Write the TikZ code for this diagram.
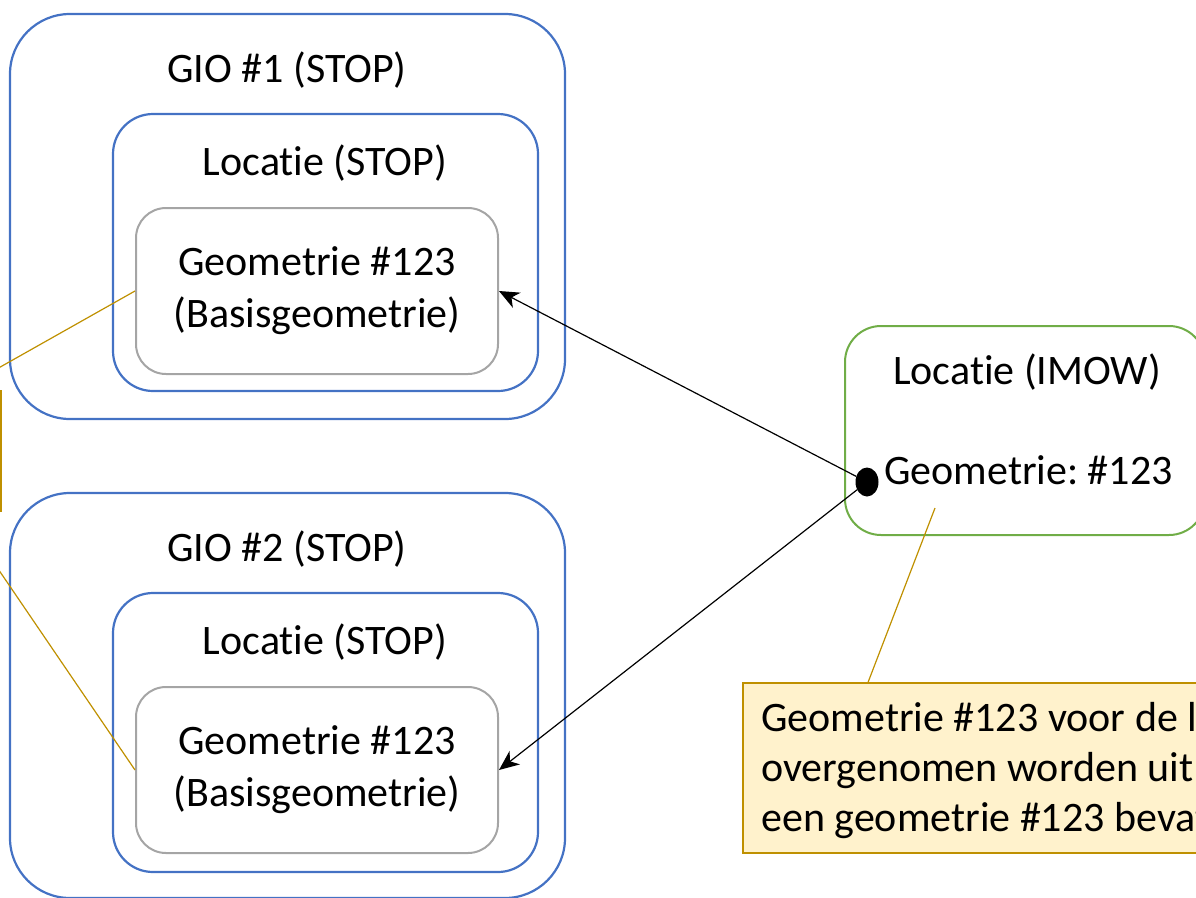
\documentclass[tikz,border=0pt]{standalone}
\usepackage{fontspec}
\setmainfont{Carlito}[Ligatures=NoCommon]
\usetikzlibrary{arrows.meta,shapes.geometric}
\definecolor{gioblue}{HTML}{4472C4}
\definecolor{geogray}{HTML}{A5A5A5}
\definecolor{imowgreen}{HTML}{70AD47}
\definecolor{notegold}{HTML}{BF9000}
\definecolor{notefill}{HTML}{FFF2CC}
\frenchspacing
\begin{document}
\begin{tikzpicture}[x=1pt,y=-1pt,
  font=\fontsize{42}{52}\selectfont,
  container/.style={draw=gioblue, line width=2.2pt, rounded corners=#1, inner sep=0pt},
  geobox/.style={draw=geogray, line width=2pt, rounded corners=30pt, inner sep=0pt,
    minimum width=362pt, minimum height=166pt, align=center},
  imowbox/.style={draw=imowgreen, line width=2pt, rounded corners=36pt, inner sep=0pt},
  notebox/.style={draw=notegold, fill=notefill, line width=1.2pt, inner sep=0pt},
  lbl/.style={inner sep=0pt},
  conn/.style={draw=black, line width=1.2pt, -{Stealth[length=20pt,width=17pt,inset=6pt]}},
  pointer/.style={draw=notegold, line width=1.2pt}]
\useasboundingbox (0,0) rectangle (1196,897);
\clip (0,0) rectangle (1196,897);

% GIO #1 with its location and base geometry
\node[container=60pt, minimum width=555pt, minimum height=405pt] (gio1) at (287.5,216.5) {};
\node[lbl] (gio1t) at (287,70) {GIO \#1 (STOP)};
\node[container=40pt, minimum width=425pt, minimum height=277pt] (loc1) at (325.5,252.5) {};
\node[lbl] (loc1t) at (325,163) {Locatie (STOP)};
\node[geobox] (geo1) at (317,291) {Geometrie \#123\\(Basisgeometrie)};

% GIO #2 with its location and base geometry
\node[container=60pt, minimum width=555pt, minimum height=405pt] (gio2) at (287.5,695.5) {};
\node[lbl] (gio2t) at (287,549) {GIO \#2 (STOP)};
\node[container=40pt, minimum width=425pt, minimum height=279pt] (loc2) at (325.5,732.5) {};
\node[lbl] (loc2t) at (325,642) {Locatie (STOP)};
\node[geobox] (geo2) at (317,770) {Geometrie \#123\\(Basisgeometrie)};

% IMOW location
\node[imowbox, minimum width=360pt, minimum height=209pt] (imow) at (1025,430.5) {};
\node[lbl] (imowt) at (1027,372) {Locatie (IMOW)};
\node[lbl, anchor=west] (imowgeo) at (884,470) {Geometrie: \#123};
\node[ellipse, fill=black, minimum width=23pt, minimum height=29pt, inner sep=0pt] (dot) at (867,482) {};

% references from the IMOW geometry to the base geometries
\draw[conn] (dot) -- (geo1.east);
\draw[conn] (dot) -- (geo2.east);

% note on the right
\node[notebox, minimum width=497pt, minimum height=170pt] (note) at (991.5,768) {};
\node[lbl, anchor=north west, align=left, font=\fontsize{42}{50}\selectfont] (notet) at (761,702)
  {Geometrie \#123 voor de locatie\\overgenomen worden uit\\een geometrie \#123 bevat};
\coordinate (notetip) at (935,508);
\draw[pointer] (note.north -| notetip) ++(-67,0) -- (notetip);

% note on the left
\node[notebox, minimum width=300pt, minimum height=120pt] (lnote) at (-149,451) {};
\coordinate (ltip1) at (-60,401);
\coordinate (ltip2) at (-40,513);
\draw[pointer] (geo1.west) -- (ltip1);
\draw[pointer] (geo2.west) -- (ltip2);
\end{tikzpicture}
\end{document}
